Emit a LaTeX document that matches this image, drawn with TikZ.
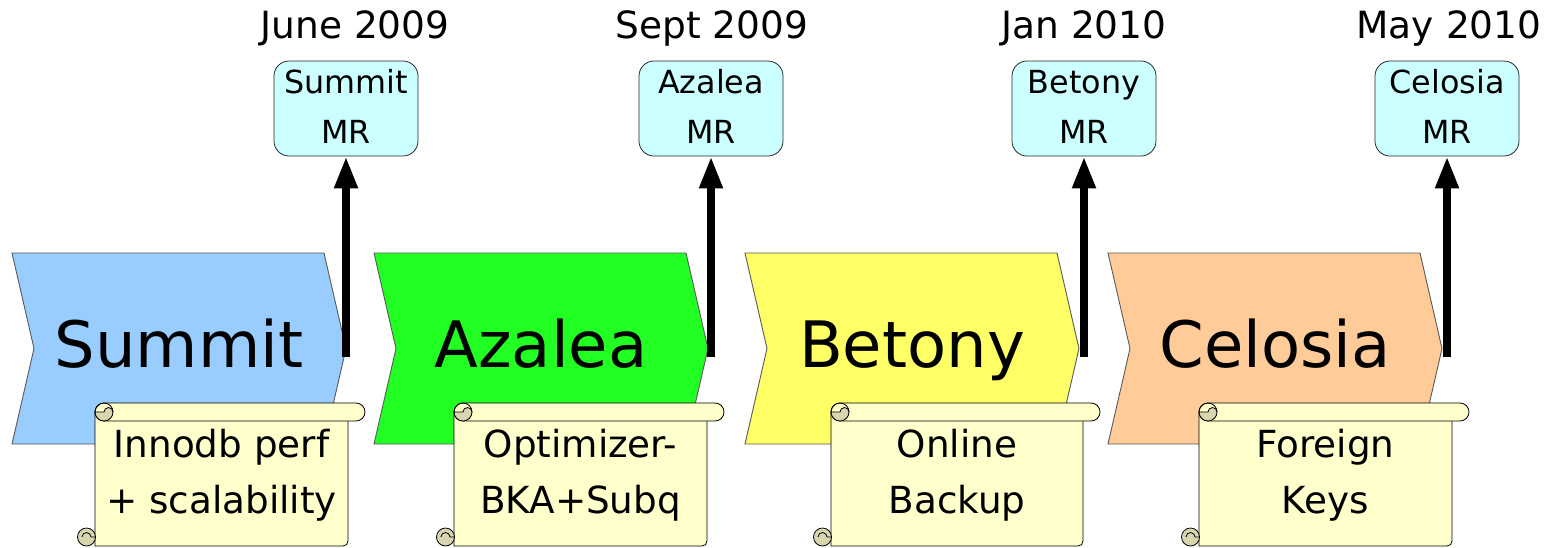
\documentclass[tikz,border=0pt]{standalone}
\usepackage{fontspec}
\setmainfont{DejaVu Sans}
\usetikzlibrary{arrows.meta}
\definecolor{csummit}{HTML}{99CCFF}
\definecolor{cazalea}{HTML}{22FF22}
\definecolor{cbetony}{HTML}{FFFF66}
\definecolor{ccelosia}{HTML}{FFCC99}
\definecolor{mrfill}{HTML}{CCFFFF}
\definecolor{scrollfill}{HTML}{FFFFCC}
\definecolor{curlfill}{HTML}{D8D6B0}
\tikzset{
  chev/.style={draw=black!65, line width=0.9pt},
  chevlabel/.style={anchor=base, font=\fontsize{64}{70}\selectfont, inner sep=0pt},
  mrbox/.style={draw=black!85, line width=0.8pt, fill=mrfill, rounded corners=15pt,
    minimum width=144pt, minimum height=95pt, inner sep=0pt, align=center,
    font=\fontsize{31.8}{50}\selectfont, text depth=4pt},
  datelabel/.style={anchor=base, font=\fontsize{37.5}{40}\selectfont, inner sep=0pt},
  milestone/.style={line width=7.7pt, -{Triangle[width=22pt,length=32pt]}},
  scrollline/.style={draw=black, line width=0.8pt},
  scrolltext/.style={inner sep=0pt, align=center, font=\fontsize{37.3}{56}\selectfont},
}
\newcommand\chevronshape[4]{% name, left x, colour, label
  \filldraw[chev, fill=#3] (#2,253) -- (#2+312,253) -- (#2+334,348.5) -- (#2+312,444) -- (#2,444) -- (#2+22,348.5) -- cycle;
  \node[chevlabel] (#1) at (#2+167,367) {#4};
}
\newcommand\scrollshape[4]{% name, body left, body right, text
  % body
  \filldraw[scrollline, fill=scrollfill] (#2,412) -- (#2,546) -- (#3-5,546) .. controls (#3-2,546) and (#3,544) .. (#3,541) -- (#3,412);
  % top roll
  \filldraw[scrollline, fill=scrollfill, rounded corners=9pt] (#2,403) rectangle (#3+17,421);
  \filldraw[scrollline, fill=curlfill] (#2,412) arc[start angle=180, end angle=0, radius=9]
     arc[start angle=0, end angle=-180, radius=4.5] -- cycle;
  \draw[scrollline] (#2,412) arc[start angle=180, end angle=360, radius=9];
  % bottom curl
  \filldraw[scrollline, fill=curlfill] (#2-8.5,537) circle (9);
  \draw[scrollline] (#2-13,537) arc[start angle=180, end angle=360, radius=4.5] -- (#2,537);
  \node[scrolltext] (#1) at ({(#2+#3)/2},475.5) {#4};
}
\begin{document}
\begin{tikzpicture}[x=1pt,y=-1pt]
\useasboundingbox (0,0) rectangle (1548,547);

% release chevrons
\chevronshape{summit}{12}{csummit}{Summit}
\chevronshape{azalea}{374}{cazalea}{Azalea}
\chevronshape{betony}{745}{cbetony}{Betony}
\chevronshape{celosia}{1108}{ccelosia}{Celosia}

% milestone boxes
\node[mrbox] (mrsummit) at (346,108.5) {Summit\\MR};
\node[mrbox] (mrazalea) at (711,108.5) {Azalea\\MR};
\node[mrbox] (mrbetony) at (1084,108.5) {Betony\\MR};
\node[mrbox] (mrcelosia) at (1447,108.5) {Celosia\\MR};

% dates
\node[datelabel] (dsummit) at (355,38) {June 2009};
\node[datelabel] (dazalea) at (712,38) {Sept 2009};
\node[datelabel] (dbetony) at (1084,38) {Jan 2010};
\node[datelabel] (dcelosia) at (1449,38) {May 2010};

% arrows
\coordinate (tsummit) at (346,357);
\coordinate (tazalea) at (711,357);
\coordinate (tbetony) at (1084,357);
\coordinate (tcelosia) at (1447,357);
\draw[milestone] (tsummit) -- (mrsummit.south);
\draw[milestone] (tazalea) -- (mrazalea.south);
\draw[milestone] (tbetony) -- (mrbetony.south);
\draw[milestone] (tcelosia) -- (mrcelosia.south);

% feature scrolls
\scrollshape{fsummit}{95}{348}{Innodb perf\\+ scalability}
\scrollshape{fazalea}{454}{707}{Optimizer-\\BKA+Subq}
\scrollshape{fbetony}{831}{1083}{Online\\Backup}
\scrollshape{fcelosia}{1199}{1452}{Foreign\\Keys}
\end{tikzpicture}
\end{document}
